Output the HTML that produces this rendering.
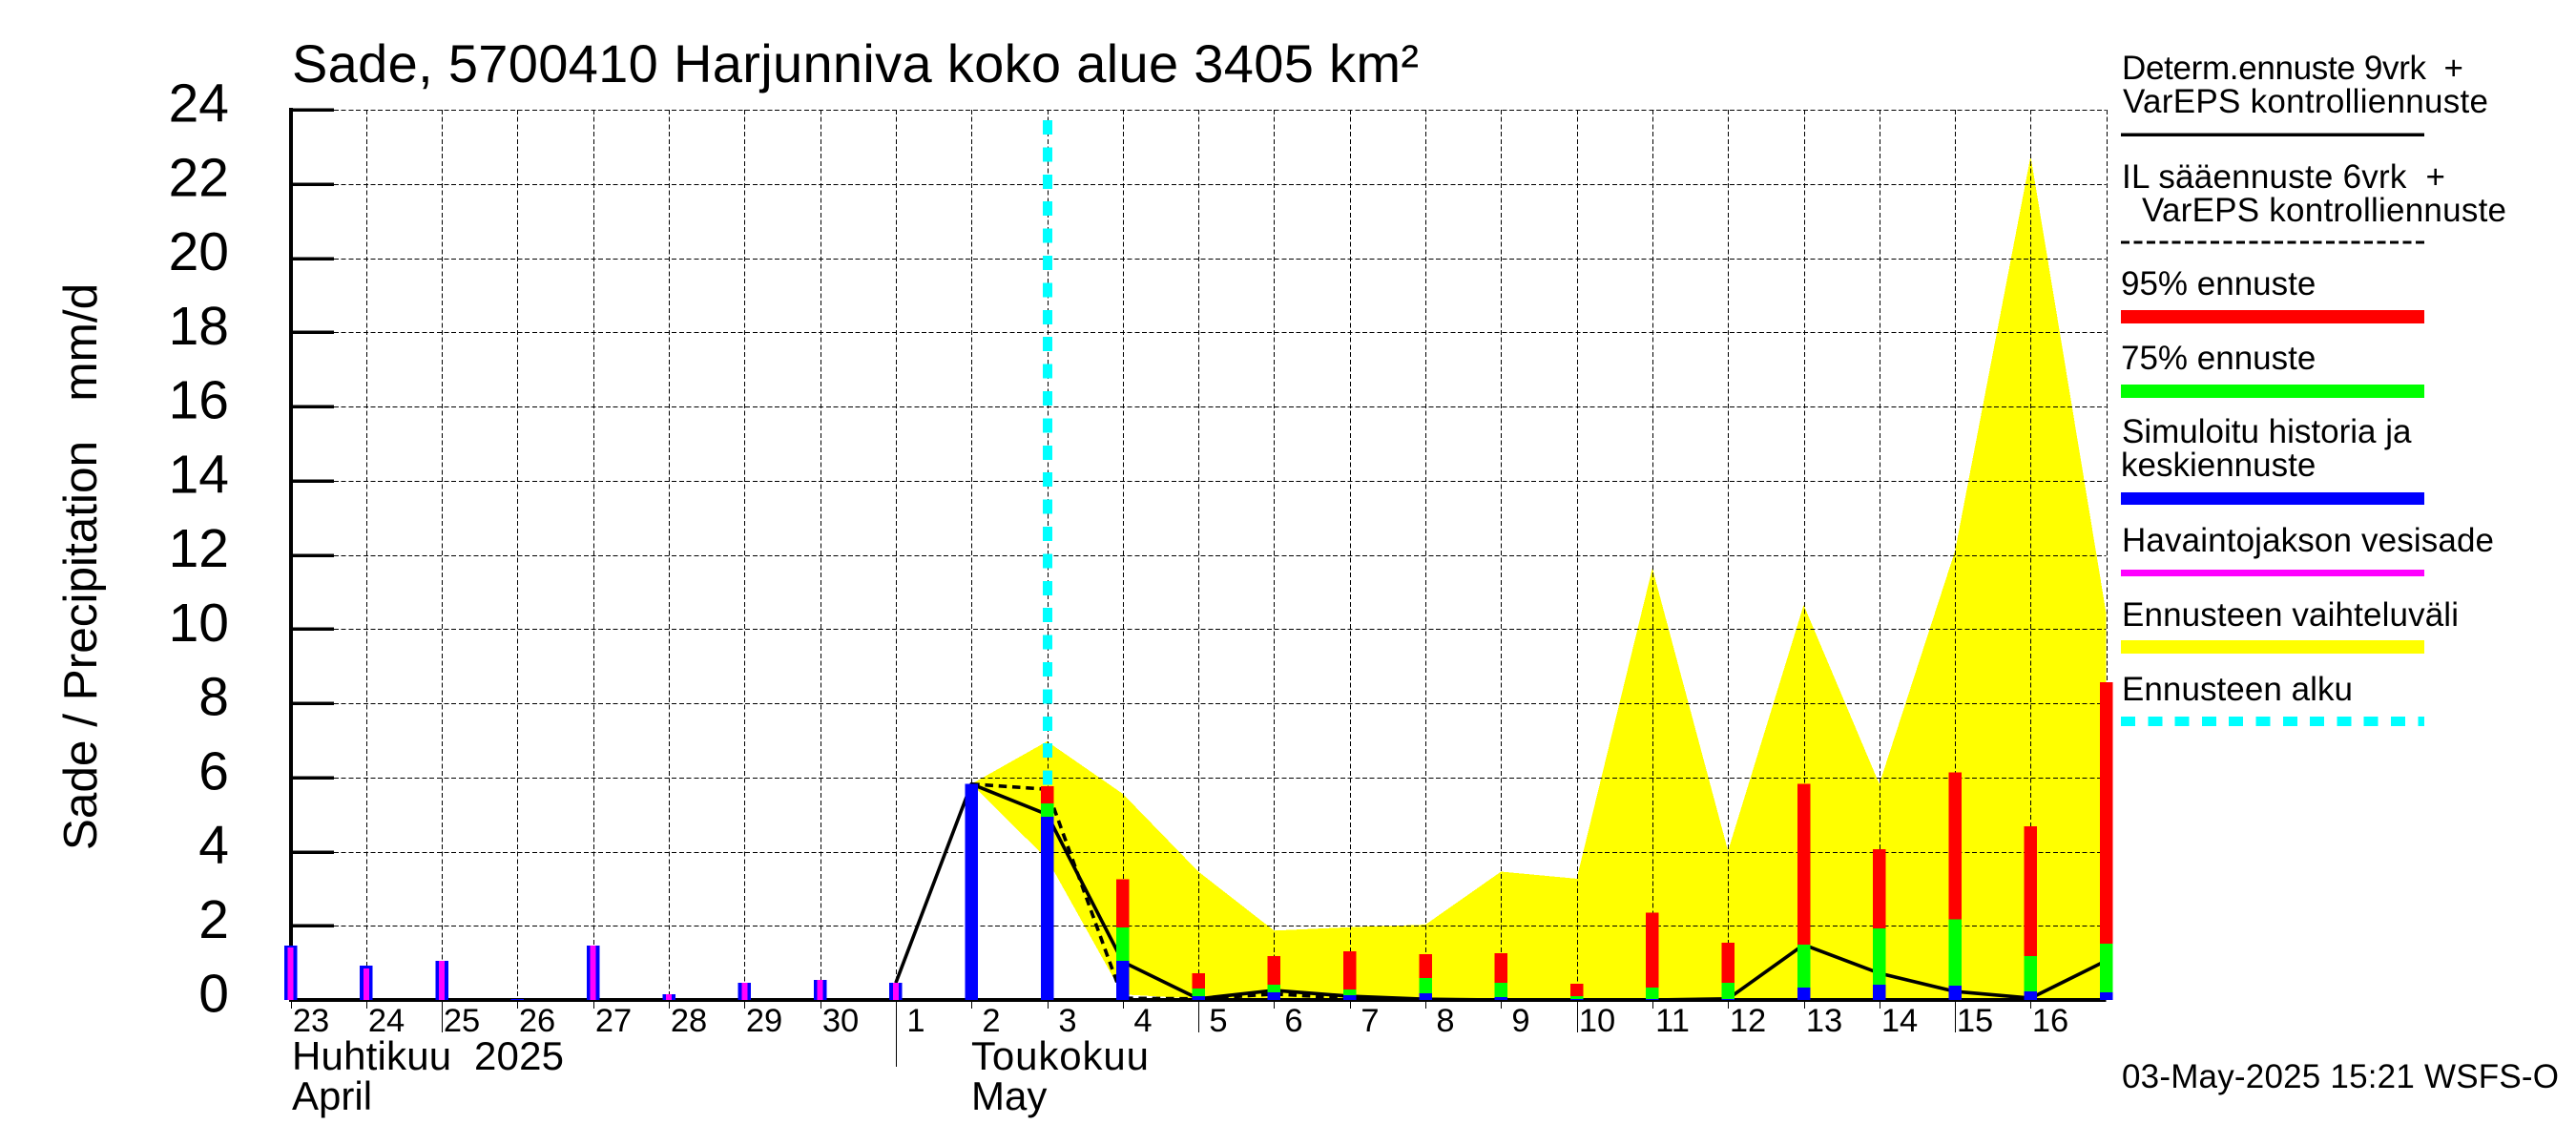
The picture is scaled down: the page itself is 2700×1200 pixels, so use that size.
<!DOCTYPE html>
<html lang="fi">
<head>
<meta charset="utf-8">
<title>Sade 5700410 Harjunniva</title>
<style>
html,body{margin:0;padding:0;background:#fff;}
svg{display:block;}
text{font-family:"Liberation Sans",sans-serif;fill:#000;white-space:pre;}
.leg{font-size:35px;}
.mon{font-size:42px;}
</style>
</head>
<body>
<svg id="chart" xmlns="http://www.w3.org/2000/svg" width="2700" height="1200" viewBox="0 0 2700 1200">
  <rect x="0" y="0" width="2700" height="1200" fill="#fff"/>
  <g id="plot"></g>
  <text x="306" y="86" font-size="56" textLength="1181">Sade, 5700410 Harjunniva koko alue 3405 km²</text>
  <text transform="translate(101,594) rotate(-90)" text-anchor="middle" font-size="49.5">Sade / Precipitation   mm/d</text>
  <g>
    <text class="mon" x="306" y="1121" textLength="285">Huhtikuu  2025</text>
    <text class="mon" x="306" y="1163">April</text>
    <text class="mon" x="1018" y="1121" textLength="186">Toukokuu</text>
    <text class="mon" x="1018" y="1163">May</text>
  </g>
  <g shape-rendering="crispEdges">
    <g>
      <text class="leg" x="2224" y="83" textLength="358">Determ.ennuste 9vrk  +</text>
      <text class="leg" x="2225" y="118" textLength="383">VarEPS kontrolliennuste</text>
      <rect x="2223" y="139.5" width="318" height="3.5" fill="#000"/>
    </g>
    <g>
      <text class="leg" x="2224" y="197" textLength="339">IL sääennuste 6vrk  +</text>
      <text class="leg" x="2245" y="232" textLength="382">VarEPS kontrolliennuste</text>
      <line x1="2223" y1="254" x2="2541" y2="254" stroke="#000" stroke-width="3" stroke-dasharray="9 4.43"/>
    </g>
    <g>
      <text class="leg" x="2223" y="309">95% ennuste</text>
      <rect x="2223" y="325" width="318" height="14" fill="#f00"/>
    </g>
    <g>
      <text class="leg" x="2223" y="387">75% ennuste</text>
      <rect x="2223" y="403" width="318" height="14" fill="#0f0"/>
    </g>
    <g>
      <text class="leg" x="2224" y="464">Simuloitu historia ja</text>
      <text class="leg" x="2223" y="499">keskiennuste</text>
      <rect x="2223" y="516" width="318" height="13" fill="#00f"/>
    </g>
    <g>
      <text class="leg" x="2224" y="578" textLength="390">Havaintojakson vesisade</text>
      <rect x="2223" y="597" width="318" height="7" fill="#f0f"/>
    </g>
    <g>
      <text class="leg" x="2224" y="656" textLength="353">Ennusteen vaihteluväli</text>
      <rect x="2223" y="671" width="318" height="14" fill="#ff0"/>
    </g>
    <g>
      <text class="leg" x="2224" y="734" textLength="242">Ennusteen alku</text>
      <line x1="2223" y1="756" x2="2541" y2="756" stroke="#0ff" stroke-width="10" stroke-dasharray="15 13.3"/>
    </g>
  </g>
  <text x="2224" y="1140" font-size="35" textLength="458">03-May-2025 15:21 WSFS-O</text>
</svg>
<script>
// Axis tick labels
const yTicks = [0,2,4,6,8,10,12,14,16,18,20,22,24];
const dayLabels = ["23","24","25","26","27","28","29","30","1","2","3","4","5","6","7","8","9","10","11","12","13","14","15","16"];
const longTickDays = ["25","5","10","15"];
// Daily values, Apr 23 .. May 17 (25 days), mm/d
const medianValues = [1.46,0.93,1.05,0.03,1.46,0.15,0.46,0.54,0.46,5.82,4.94,1.05,0.10,0.20,0.13,0.18,0.08,0.03,0.03,0.03,0.33,0.41,0.39,0.23,0.20];
const observedValues = [1.41,0.85,1.05,0,1.46,0.15,0.46,0.54,0.46,0,0,0,0,0,0,0,0,0,0,0,0,0,0,0,0];
const p75Values = [0,0,0,0,0,0,0,0,0,0,5.30,1.95,0.31,0.41,0.28,0.59,0.46,0.10,0.33,0.46,1.49,1.93,2.18,1.18,1.52];
const p95Values = [0,0,0,0,0,0,0,0,0,0,5.76,3.26,0.72,1.18,1.31,1.23,1.26,0.44,2.36,1.54,5.83,4.06,6.14,4.68,8.56];
// Range band, May 2 .. May 17
const bandStartDay = 9;
const bandUpper = [5.82,6.97,5.56,3.46,1.87,1.96,2.03,3.46,3.27,11.64,4.02,10.65,5.82,12.1,22.75,10.4];
const bandLower = [5.82,3.80,0.15,0.03,0.03,0.03,0.03,0,0,0,0,0,0,0,0,0];
// Deterministic forecast, May 1 .. May 17
const detStartDay = 8;
const detValues = [0.46,5.82,5.00,1.03,0.03,0.26,0.10,0.02,0,0,0,0.03,1.49,0.72,0.23,0.05,1.06];
// IL forecast, May 2 .. May 9
const ilStartDay = 9;
const ilValues = [5.82,5.68,0.05,0.03,0.16,0.05,0,0];
const forecastStartDay = 10;

const X0 = 304.5, DX = 79.3, Y0 = 1048, UY = 38.875;
const xAt = function(i){ return X0 + i * DX; };
const yAt = function(v){ return Y0 - v * UY; };
const NS = "http://www.w3.org/2000/svg";
const plot = document.getElementById("plot");
function mk(tag, parent, attrs){
  const el = document.createElementNS(NS, tag);
  for (const k in attrs) el.setAttribute(k, attrs[k]);
  parent.appendChild(el);
  return el;
}
function pts(values, start){
  return values.map(function(v, i){ return xAt(start + i).toFixed(1) + "," + yAt(v).toFixed(1); });
}

// range band
const bandPts = pts(bandUpper, bandStartDay).concat(pts(bandLower, bandStartDay).reverse());
const band = mk("polygon", plot, {points: bandPts.join(" "), fill: "#ff0", "shape-rendering": "crispEdges"});



// grid
const gridG = mk("g", plot, {stroke: "#000", "stroke-width": 1, "stroke-dasharray": "5 2.7", "shape-rendering": "crispEdges"});


yTicks.forEach(function(t){
  if (t === 0) return;
  const g = mk("line", gridG, {x1: 350, x2: xAt(dayLabels.length), y1: Math.round(yAt(t)) + 0.5, y2: Math.round(yAt(t)) + 0.5});
  
  
});
for (let i = 1; i <= dayLabels.length; i++) {
  const g = mk("line", gridG, {x1: Math.round(xAt(i)) + 0.5, x2: Math.round(xAt(i)) + 0.5, y1: yAt(24), y2: yAt(0)});
  
  
}

// forecast start marker
const startLine = mk("line", plot, {x1: xAt(forecastStartDay) + 0.5, x2: xAt(forecastStartDay) + 0.5, y1: 126, y2: Y0, stroke: "#0ff", "stroke-width": 10, "stroke-dasharray": "15 13.4", "shape-rendering": "crispEdges"});



// axis lines
const xAxis = mk("rect", plot, {x: 303, y: Y0 - 2, width: xAt(dayLabels.length) - 303, height: 4, fill: "#000", "shape-rendering": "crispEdges"});


const yAxis = mk("rect", plot, {x: 303, y: yAt(24) - 2, width: 4, height: Y0 - yAt(24) + 4, fill: "#000", "shape-rendering": "crispEdges"});



// y ticks + labels
yTicks.forEach(function(t){
  const tk = mk("rect", plot, {x: 305, y: Math.round(yAt(t)) - 1.5, width: 45, height: 3.5, fill: "#000", "shape-rendering": "crispEdges"});
  
  
  const lb = mk("text", plot, {x: 240, y: yAt(t) + 12.5, "text-anchor": "end", "font-size": 57});
  
  
  lb.textContent = String(t);
});

// x ticks + labels
dayLabels.forEach(function(d, i){
  const x = Math.round(xAt(i)) + 0.5;
  let bottom = 1057;
  if (longTickDays.indexOf(d) >= 0) bottom = 1082;
  if (d === "1") bottom = 1118;
  const tk = mk("line", plot, {x1: x, x2: x, y1: Y0 + 2, y2: bottom, stroke: "#000", "stroke-width": 1, "shape-rendering": "crispEdges"});
  
  
  const lb = mk("text", plot, {x: x + 20.5, y: 1081, "text-anchor": "middle", "font-size": 34.5});
  
  
  lb.textContent = d;
});

// forecast lines
const detLine = mk("polyline", plot, {points: pts(detValues, detStartDay).join(" "), fill: "none", stroke: "#000", "stroke-width": 3.6, "stroke-linejoin": "round"});


const ilLine = mk("polyline", plot, {points: pts(ilValues, ilStartDay).join(" "), fill: "none", stroke: "#000", "stroke-width": 3.6, "stroke-dasharray": "8.5 5.8"});



// bars
const BW = 13.5;
function bar(i, v, w, color){
  return mk("rect", plot, {x: xAt(i) - w / 2, y: yAt(v), width: w, height: Math.max(0, Y0 - yAt(v)), fill: color, "shape-rendering": "crispEdges"});
}
medianValues.forEach(function(m, i){
  if (p95Values[i] > 0) {
    const r = bar(i, p95Values[i], BW, "#f00");
    
    
  }
  if (p75Values[i] > 0) {
    const g = bar(i, p75Values[i], BW, "#0f0");
    
    
  }
  const b = bar(i, m, BW, "#00f");
  
  
  if (observedValues[i] > 0) {
    const o = bar(i, observedValues[i], 6, "#f0f");
    
    
  }
});
</script>
</body>
</html>
